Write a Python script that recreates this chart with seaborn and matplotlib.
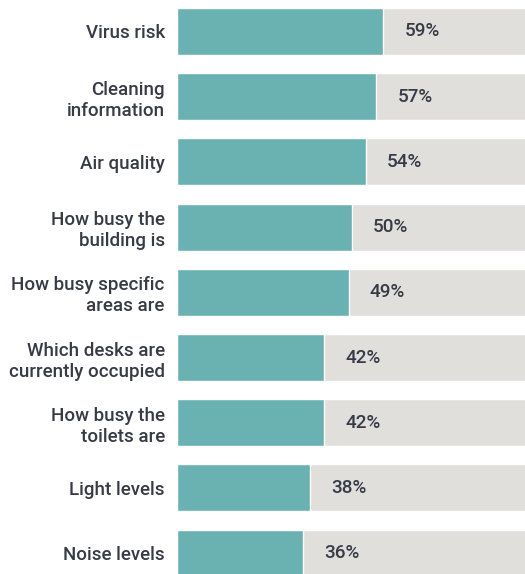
import matplotlib
matplotlib.use("Agg")
import matplotlib.pyplot as plt
import seaborn as sns
import pandas as pd

categories = ["Virus risk", "Cleaning\ninformation", "Air quality",
              "How busy the\nbuilding is", "How busy specific\nareas are",
              "Which desks are\ncurrently occupied", "How busy the\ntoilets are",
              "Light levels", "Noise levels"]
values = [59, 57, 54, 50, 49, 42, 42, 38, 36]
totals = [100] * len(values)

df = pd.DataFrame({"cat": categories, "val": values, "total": totals})

sns.set_theme(style="white")
plt.rcParams['font.family'] = ['Roboto', 'DejaVu Sans']

W, H = 525, 574
fig = plt.figure(figsize=(W / 100, H / 100), dpi=100)
left = 177.3 / W
ax = fig.add_axes([left, 0, 1 - left, 1])

sns.barplot(data=df, y="cat", x="total", color="#E0DFDB", width=0.72,
            saturation=1, ax=ax, orient="h")
sns.barplot(data=df, y="cat", x="val", color="#6AB2B1", width=0.72,
            saturation=1, ax=ax, orient="h")

ax.set_xlim(0, 99.5)
ax.set_ylim(8.32, -0.483)
for s in ax.spines.values():
    s.set_visible(False)
ax.set_xticks([])
ax.set_xlabel("")
ax.set_ylabel("")
ax.tick_params(axis="y", length=0, pad=9)
for t in ax.get_yticklabels():
    t.set_fontsize(13.5)
    t.set_fontweight("medium")
    t.set_color("#363b46")
    t.set_linespacing(1.22)

for i, v in enumerate(values):
    ax.annotate(f"{v}%", xy=(v, i), xytext=(21, 0), textcoords="offset pixels",
                ha="left", va="center", fontsize=13.6, fontweight="medium",
                color="#363b46")

fig.savefig("out.png", dpi=100)
